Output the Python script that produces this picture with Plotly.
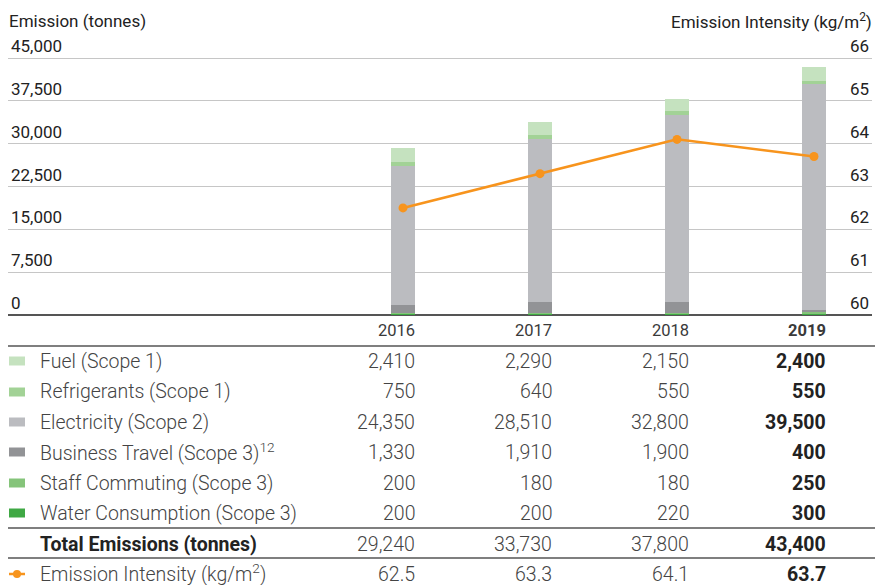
import plotly.graph_objects as go

years = ["2016", "2017", "2018", "2019"]
fuel = [2410, 2290, 2150, 2400]
refrigerants = [750, 640, 550, 550]
electricity = [24350, 28510, 32800, 39500]
business_travel = [1330, 1910, 1900, 400]
staff_commuting = [200, 180, 180, 250]
water = [200, 200, 220, 300]
totals = [29240, 33730, 37800, 43400]
intensity = [62.5, 63.3, 64.1, 63.7]

left_ticks = [0, 7500, 15000, 22500, 30000, 37500, 45000]
right_ticks = [60, 61, 62, 63, 64, 65, 66]

series = [
    ("Water Consumption (Scope 3)", water, "#3fa844"),
    ("Staff Commuting (Scope 3)", staff_commuting, "#85c47a"),
    ("Business Travel (Scope 3)<sup>12</sup>", business_travel, "#929396"),
    ("Electricity (Scope 2)", electricity, "#bbbcc0"),
    ("Refrigerants (Scope 1)", refrigerants, "#a2d296"),
    ("Fuel (Scope 1)", fuel, "#c5e2bf"),
]

W, H = 875, 585
FONT = "Roboto"
TXT = "#444444"
DARK = "#222222"
ORANGE = "#f7941d"

def py(p):
    return 1 - p / H

fig = go.Figure()
for name, vals, col in series:
    fig.add_trace(go.Bar(x=years, y=vals, name=name, marker=dict(color=col, line=dict(width=0)),
                         width=0.168, showlegend=False))
fig.add_trace(go.Scatter(x=years, y=intensity, yaxis="y2", mode="lines+markers",
                         line=dict(color=ORANGE, width=2.5), marker=dict(size=9, color=ORANGE),
                         showlegend=False))

x0, x1 = 8, 872
c0, step = 403, 137
y_bot, y_top, y_dom_top = 315, 58, 36
ext = (y_top - y_dom_top) / (y_bot - y_top)
fig.update_layout(
    width=W, height=H, margin=dict(l=0, r=0, t=0, b=0),
    plot_bgcolor="white", paper_bgcolor="white", barmode="stack",
    font=dict(family=FONT, color=TXT, size=17),
    xaxis=dict(type="category", domain=[x0 / W, x1 / W], range=[(x0 - c0) / step, (x1 - c0) / step],
               showticklabels=False, showgrid=False, zeroline=False, showline=False, ticks=""),
    yaxis=dict(domain=[py(y_bot), py(y_dom_top)], range=[0, 45000 * (1 + ext)], tickvals=left_ticks,
               tickformat=",", ticklabelposition="inside top", showgrid=True, gridcolor="#c6c6c6",
               gridwidth=1, zeroline=True, zerolinecolor="#555555", zerolinewidth=1.5,
               tickfont=dict(family=FONT, size=17, color=DARK), ticks=""),
    yaxis2=dict(overlaying="y", side="right", range=[60, 66 + 6 * ext], tickvals=right_ticks,
                ticklabelposition="inside top", showgrid=False, zeroline=False,
                tickfont=dict(family=FONT, size=17, color=DARK), ticks=""),
)

anns = []
anns.append(dict(x=7 / W, y=py(21), xref="paper", yref="paper", text="Emission (tonnes)",
                 showarrow=False, xanchor="left", yanchor="middle",
                 font=dict(family=FONT, size=17, color=DARK)))
anns.append(dict(x=874 / W, y=py(21), xref="paper", yref="paper", text="Emission Intensity (kg/m<sup>2</sup>)",
                 showarrow=False, xanchor="right", yanchor="middle",
                 font=dict(family=FONT, size=17, color=DARK)))

XS = 14
# header row (years)
for i, yr in enumerate(years):
    t = f"<b>{yr}</b>" if i == 3 else yr
    anns.append(dict(x=i, y=py(330), xref="x", yref="paper", text=t, showarrow=False,
                     xanchor="right", yanchor="middle", xshift=XS,
                     font=dict(family=FONT, size=16.5, color="#3a3a3a", weight=700 if i == 3 else 400)))

rows = [
    ("Fuel (Scope 1)", fuel, "#c5e2bf", "box"),
    ("Refrigerants (Scope 1)", refrigerants, "#a2d296", "box"),
    ("Electricity (Scope 2)", electricity, "#bbbcc0", "box"),
    ("Business Travel (Scope 3)<sup>12</sup>", business_travel, "#929396", "box"),
    ("Staff Commuting (Scope 3)", staff_commuting, "#85c47a", "box"),
    ("Water Consumption (Scope 3)", water, "#3fa844", "box"),
    ("<b>Total Emissions (tonnes)</b>", totals, None, None),
    ("Emission Intensity (kg/m<sup>2</sup>)", intensity, ORANGE, "line"),
]
row_y = [361, 392, 422, 452, 483, 513, 544, 574]

shapes = []
for (label, vals, col, kind), ry in zip(rows, row_y):
    ty = ry - 1.5 if "<sup>" in label and kind == "line" else ry
    anns.append(dict(x=38 / W, y=py(ty), xref="paper", yref="paper", text=label, showarrow=False,
                     xanchor="left", yanchor="middle",
                     font=dict(family=FONT, size=19.5, color=TXT if "<b>" not in label else DARK,
                               weight=300 if "<b>" not in label else 700)))
    for i, v in enumerate(vals):
        s = f"{v:.1f}" if isinstance(v, float) else f"{v:,}"
        if i == 3:
            s = f"<b>{s}</b>"
        anns.append(dict(x=i, y=py(ry), xref="x", yref="paper", text=s, showarrow=False,
                         xanchor="right", yanchor="middle", xshift=XS,
                         font=dict(family=FONT, size=19.5, color=TXT if i < 3 else DARK,
                                   weight=300 if i < 3 else 700)))
    if kind == "box":
        shapes.append(dict(type="rect", xref="paper", yref="paper", x0=9 / W, x1=25 / W,
                           y0=py(ry + 4.5), y1=py(ry - 4.5), fillcolor=col, line=dict(width=0)))
    elif kind == "line":
        shapes.append(dict(type="line", xref="paper", yref="paper", x0=9 / W, x1=25 / W,
                           y0=py(ry), y1=py(ry), line=dict(color=col, width=2.5)))
        shapes.append(dict(type="circle", xref="paper", yref="paper", x0=13 / W, x1=21 / W,
                           y0=py(ry + 4), y1=py(ry - 4), fillcolor=col, line=dict(width=0)))

for ly in [346, 528, 558]:
    shapes.append(dict(type="line", xref="paper", yref="paper", x0=8 / W, x1=875 / W,
                       y0=py(ly), y1=py(ly), line=dict(color="#555555", width=1.5)))

fig.update_layout(annotations=anns, shapes=shapes)
fig.write_html("out.html", config={"displayModeBar": False},
               post_script="document.body.style.margin='0';document.body.style.padding='0';")
